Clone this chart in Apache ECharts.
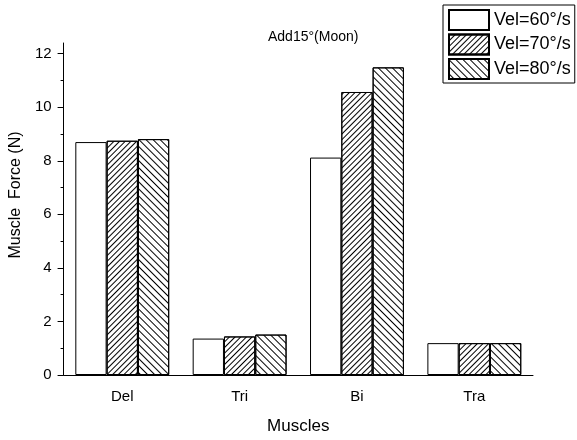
<!DOCTYPE html>
<html>
<head>
<meta charset="utf-8">
<script src="https://cdn.jsdelivr.net/npm/echarts@6/dist/echarts.min.js"></script>
<style>
  html, body { margin: 0; padding: 0; background: #fff; }
  #chart { width: 577px; height: 440px; }
</style>
</head>
<body>
<div id="chart"></div>
<script>
const categories = ['Del', 'Tri', 'Bi', 'Tra']
const vel60 = [8.70, 1.36, 8.12, 1.19]
const vel70 = [8.75, 1.44, 10.57, 1.19]
const vel80 = [8.81, 1.51, 11.49, 1.19]
const majorTicks = [0, 2, 4, 6, 8, 10, 12]
const minorTicks = [1, 3, 5, 7, 9, 11]

const font = 'Liberation Sans, Arial, sans-serif'

// hatching: 70 -> "/" dense, 80 -> "\" wider
const hatch70 = {
  symbol: 'rect', symbolSize: 1, color: '#000',
  dashArrayX: [1, 0], dashArrayY: [1, 2.6], rotation: -Math.PI / 4
}
const hatch80 = {
  symbol: 'rect', symbolSize: 1, color: '#000',
  dashArrayX: [1, 0], dashArrayY: [1, 4], rotation: Math.PI / 4
}

function barSeries(name, data, decal){
  const itemStyle = {
    color: '#fff',
    borderColor: '#000',
    borderWidth: 1
  }
  if (decal) itemStyle.decal = decal
  return {
    name: name,
    type: 'bar',
    data: data,
    barGap: '0%',
    barCategoryGap: '20%',
    itemStyle: itemStyle
  }
}

const chart = echarts.init(document.getElementById('chart'), null, {renderer: 'canvas'})
chart.setOption({
  animation: false,
  textStyle: {fontFamily: font, color: '#000'},
  title: {
    text: 'Add15°(Moon)',
    left: 268, top: 30, padding: 0,
    textStyle: {fontFamily: font, fontSize: 14, fontWeight: 'normal', color: '#000'}
  },
  legend: {
    orient: 'vertical',
    left: 443, top: 5,
    padding: [4, 4, 3, 5],
    itemGap: 2.5,
    itemWidth: 40,
    itemHeight: 20,
    icon: 'rect',
    borderColor: '#000',
    borderWidth: 1,
    textStyle: {fontFamily: font, fontSize: 18, color: '#000'},
    data: ['Vel=60°/s', 'Vel=70°/s', 'Vel=80°/s']
  },
  grid: {left: 62, right: 44, top: 43, bottom: 55, containLabel: false},
  xAxis: {
    type: 'category',
    data: categories,
    name: 'Muscles',
    nameLocation: 'middle',
    nameGap: 43,
    nameTextStyle: {fontFamily: font, fontSize: 17, color: '#000'},
    axisLine: {lineStyle: {color: '#000', width: 1}},
    axisTick: {show: false},
    axisLabel: {fontFamily: font, fontSize: 15, color: '#000', margin: 14}
  },
  yAxis: [
    {
      type: 'value',
      min: 0, max: 12.4, interval: 1,
      name: 'Muscle  Force (N)',
      nameLocation: 'middle',
      nameGap: 31,
      nameTextStyle: {fontFamily: font, fontSize: 16, color: '#000', padding: [0, 0, 0, 28]},
      axisLine: {show: true, lineStyle: {color: '#000', width: 1}},
      axisTick: {show: true, length: 6, customValues: majorTicks, lineStyle: {color: '#000'}},
      axisLabel: {fontFamily: font, fontSize: 15, color: '#000', margin: 12, customValues: majorTicks},
      splitLine: {show: false}
    },
    {
      type: 'value',
      position: 'left',
      min: 0, max: 12.4, interval: 1,
      axisLine: {show: false},
      axisTick: {show: true, length: 3, customValues: minorTicks, lineStyle: {color: '#000'}},
      axisLabel: {show: false},
      splitLine: {show: false}
    }
  ],
  series: [
    barSeries('Vel=60°/s', vel60, null),
    barSeries('Vel=70°/s', vel70, hatch70),
    barSeries('Vel=80°/s', vel80, hatch80)
  ]
})
</script>
</body>
</html>
